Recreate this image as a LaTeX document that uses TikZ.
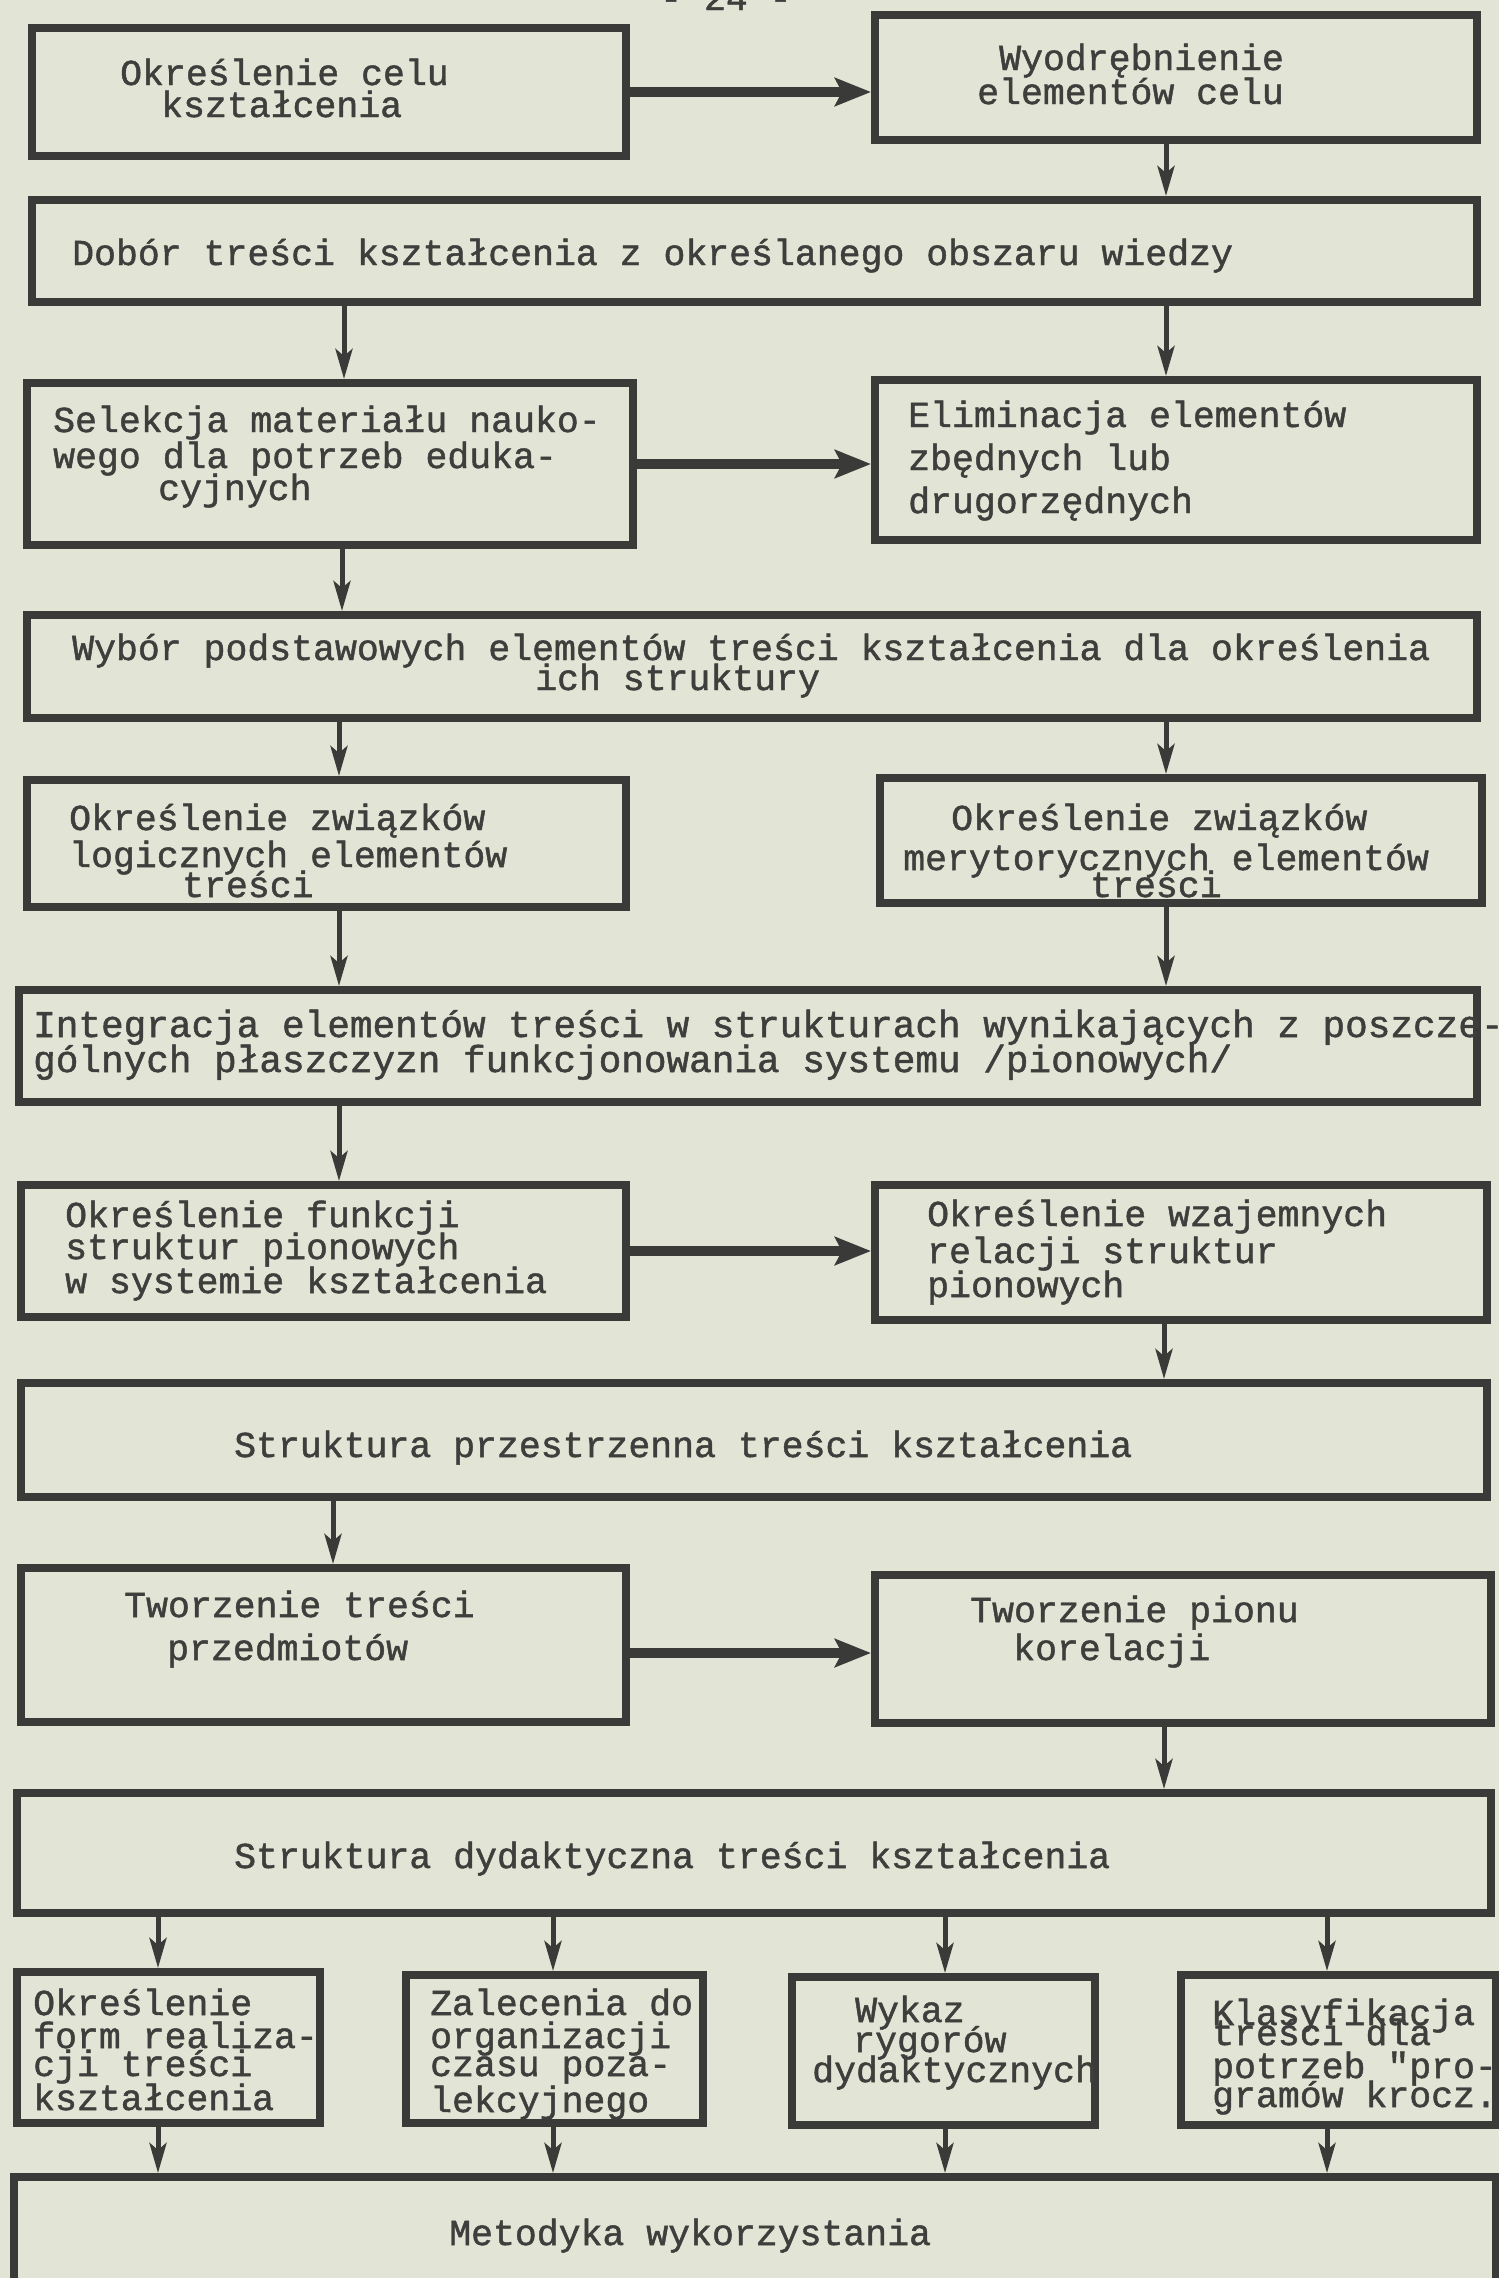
\documentclass[tikz,border=0pt]{standalone}
\usepackage{fontspec}
\newfontfamily\tw[FakeBold=1.3]{Liberation Mono}
\usetikzlibrary{arrows.meta,fit}
\definecolor{paper}{RGB}{226,229,213}
\definecolor{ink}{RGB}{58,58,56}
\definecolor{txtc}{RGB}{62,62,60}
\begin{document}
\begin{tikzpicture}[x=1pt,y=-1pt,
  box/.style={draw=ink, line width=8pt, inner sep=0pt},
  txt/.style={anchor=base west, inner sep=0pt, text=txtc, font=\tw\fontsize{36.5}{40}\selectfont},
  wtxt/.style={txt, font=\tw\fontsize{37.7}{40}\selectfont},
  varr/.style={draw=ink, line width=5pt, -{Stealth[length=30pt,width=17pt,inset=7pt]}},
  harr/.style={draw=ink, line width=10pt, -{Stealth[length=36pt,width=28pt,inset=7pt]}}]
\useasboundingbox (0,0) rectangle (1499,2278);
\clip (0,0) rectangle (1499,2278);
\fill[paper] (0,0) rectangle (1499,2278);

\node[txt] (pg) at (660,10) {- 24 -};

% boxes
\node[box, fit={(32,28) (626,156)}] (A) {};
\node[box, fit={(875,15) (1477,140)}] (B) {};
\node[box, fit={(32,200) (1477,302)}] (C) {};
\node[box, fit={(27,383) (633,545)}] (D) {};
\node[box, fit={(875,380) (1477,540)}] (E) {};
\node[box, fit={(27,615) (1477,718)}] (F) {};
\node[box, fit={(27,780) (626,907)}] (G) {};
\node[box, fit={(880,778) (1482,903)}] (H) {};
\node[box, fit={(19,990) (1477,1102)}] (I) {};
\node[box, fit={(21,1185) (626,1317)}] (J) {};
\node[box, fit={(875,1185) (1487,1320)}] (K) {};
\node[box, fit={(21,1383) (1487,1497)}] (L) {};
\node[box, fit={(21,1568) (626,1722)}] (M) {};
\node[box, fit={(875,1575) (1491,1723)}] (N) {};
\node[box, fit={(17,1793) (1491,1913)}] (O) {};
\node[box, fit={(17,1972) (320,2123)}] (P1) {};
\node[box, fit={(406,1975) (703,2123)}] (P2) {};
\node[box, fit={(792,1977) (1095,2125)}] (P3) {};
\node[box, fit={(1181,1975) (1496,2125)}] (P4) {};
\node[box, fit={(14,2177) (1496,2300)}] (Q) {};

% texts
\node[txt] (a1) at (120,85) {Określenie celu};
\node[txt] (a2) at (161,117) {kształcenia};
\node[txt] (b1) at (999,70) {Wyodrębnienie};
\node[txt] (b2) at (977,104) {elementów celu};
\node[txt] (c1) at (72,265) {Dobór treści kształcenia z określanego obszaru wiedzy};
\node[txt] (d1) at (53,432) {Selekcja materiału nauko-};
\node[txt] (d2) at (53,468) {wego dla potrzeb eduka-};
\node[txt] (d3) at (158,500) {cyjnych};
\node[txt] (e1) at (908,427) {Eliminacja elementów};
\node[txt] (e2) at (908,470) {zbędnych lub};
\node[txt] (e3) at (908,513) {drugorzędnych};
\node[txt] (f1) at (72,660) {Wybór podstawowych elementów treści kształcenia dla określenia};
\node[txt] (f2) at (535,690) {ich struktury};
\node[txt] (g1) at (69,830) {Określenie związków};
\node[txt] (g2) at (69,867) {logicznych elementów};
\node[txt] (g3) at (182,897) {treści};
\node[txt] (h1) at (951,830) {Określenie związków};
\node[txt] (h2) at (903,870) {merytorycznych elementów};
\node[txt] (h3) at (1090,897) {treści};
\node[wtxt] (i1) at (33,1037) {Integracja elementów treści w strukturach wynikających z poszcze-};
\node[wtxt] (i2) at (33,1072) {gólnych płaszczyzn funkcjonowania systemu /pionowych/};
\node[txt] (j1) at (65,1227) {Określenie funkcji};
\node[txt] (j2) at (65,1259) {struktur pionowych};
\node[txt] (j3) at (65,1293) {w systemie kształcenia};
\node[txt] (k1) at (927,1226) {Określenie wzajemnych};
\node[txt] (k2) at (927,1263) {relacji struktur};
\node[txt] (k3) at (927,1297) {pionowych};
\node[txt] (l1) at (234,1457) {Struktura przestrzenna treści kształcenia};
\node[txt] (m1) at (124,1617) {Tworzenie treści};
\node[txt] (m2) at (167,1660) {przedmiotów};
\node[txt] (n1) at (970,1622) {Tworzenie pionu};
\node[txt] (n2) at (1013,1660) {korelacji};
\node[txt] (o1) at (234,1868) {Struktura dydaktyczna treści kształcenia};
\node[txt] (p11) at (33,2015) {Określenie};
\node[txt] (p12) at (33,2048) {form realiza-};
\node[txt] (p13) at (33,2076) {cji treści};
\node[txt] (p14) at (33,2110) {kształcenia};
\node[txt] (p21) at (430,2015) {Zalecenia do};
\node[txt] (p22) at (430,2048) {organizacji};
\node[txt] (p23) at (430,2076) {czasu poza-};
\node[txt] (p24) at (430,2112) {lekcyjnego};
\node[txt] (p31) at (855,2022) {Wykaz};
\node[txt] (p32) at (853,2052) {rygorów};
\node[txt] (p33) at (812,2082) {dydaktycznych};
\node[txt] (p41) at (1212,2025) {Klasyfikacja};
\node[txt] (p42) at (1212,2045) {treści dla};
\node[txt] (p43) at (1212,2078) {potrzeb "pro-};
\node[txt] (p44) at (1212,2107) {gramów krocz.};
\node[txt] (q1) at (449,2245) {Metodyka wykorzystania};

% connectors
\draw[harr] (A.east) -- (A.east -| B.west);
\draw[varr] ([xshift=-10pt]B.south) -- ([xshift=-10pt]B.south |- C.north);
\draw[varr] ([xshift=14pt]D.north |- C.south) -- ([xshift=14pt]D.north);
\draw[varr] ([xshift=-10pt]E.north |- C.south) -- ([xshift=-10pt]E.north);
\draw[harr] (D.east) -- (D.east -| E.west);
\draw[varr] ([xshift=12pt]D.south) -- ([xshift=12pt]D.south |- F.north);
\draw[varr] ([xshift=12.5pt]G.north |- F.south) -- ([xshift=12.5pt]G.north);
\draw[varr] ([xshift=-15pt]H.north |- F.south) -- ([xshift=-15pt]H.north);
\draw[varr] ([xshift=12.5pt]G.south) -- ([xshift=12.5pt]G.south |- I.north);
\draw[varr] ([xshift=-15pt]H.south) -- ([xshift=-15pt]H.south |- I.north);
\draw[varr] ([xshift=15.5pt]J.north |- I.south) -- ([xshift=15.5pt]J.north);
\draw[harr] (J.east) -- (J.east -| K.west);
\draw[varr] ([xshift=-17pt]K.south) -- ([xshift=-17pt]K.south |- L.north);
\draw[varr] ([xshift=9.5pt]M.north |- L.south) -- ([xshift=9.5pt]M.north);
\draw[harr] ([yshift=-8pt]M.east) -- ([yshift=-8pt]M.east -| N.west);
\draw[varr] ([xshift=-19pt]N.south) -- ([xshift=-19pt]N.south |- O.north);
\draw[varr] ([xshift=-10.5pt]P1.north |- O.south) -- ([xshift=-10.5pt]P1.north);
\draw[varr] ([xshift=-1.5pt]P2.north |- O.south) -- ([xshift=-1.5pt]P2.north);
\draw[varr] ([xshift=1.5pt]P3.north |- O.south) -- ([xshift=1.5pt]P3.north);
\draw[varr] ([xshift=-11.5pt]P4.north |- O.south) -- ([xshift=-11.5pt]P4.north);
\draw[varr] ([xshift=-10.5pt]P1.south) -- ([xshift=-10.5pt]P1.south |- Q.north);
\draw[varr] ([xshift=-1.5pt]P2.south) -- ([xshift=-1.5pt]P2.south |- Q.north);
\draw[varr] ([xshift=1.5pt]P3.south) -- ([xshift=1.5pt]P3.south |- Q.north);
\draw[varr] ([xshift=-11.5pt]P4.south) -- ([xshift=-11.5pt]P4.south |- Q.north);
\end{tikzpicture}
\end{document}
